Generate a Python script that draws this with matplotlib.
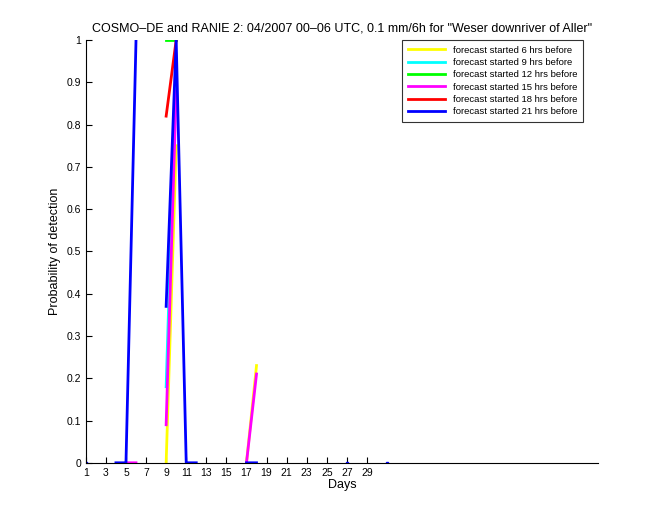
import numpy as np
import matplotlib.pyplot as plt

plt.rcParams['font.family'] = ['Liberation Sans', 'DejaVu Sans']

nan = np.nan
days = np.arange(1, 32)

# probability of detection per day, one list per forecast lead time
pod_6 = [nan]*8 + [0.0, 0.75] + [nan]*6 + [0.0, 0.23] + [nan]*13
pod_9 = [nan]*8 + [0.18, 0.95] + [nan]*21
pod_12 = [nan]*8 + [1.0, 1.0] + [nan]*21
pod_15 = [nan]*4 + [0.0, 0.0] + [nan]*2 + [0.09, 0.88] + [nan]*6 + [0.0, 0.21] + [nan]*13
pod_18 = [nan]*8 + [0.82, 1.0] + [nan]*21
pod_21 = ([0.0, nan, nan, 0.0, 0.0, 1.0, nan, nan, 0.37, 1.0, 0.0, 0.0]
          + [nan]*4 + [0.0, 0.0] + [nan]*8 + [0.0] + [nan]*3 + [0.0])

series = [
    (pod_6, 'yellow', 'forecast started 6 hrs before'),
    (pod_9, 'cyan', 'forecast started 9 hrs before'),
    (pod_12, 'lime', 'forecast started 12 hrs before'),
    (pod_15, 'magenta', 'forecast started 15 hrs before'),
    (pod_18, 'red', 'forecast started 18 hrs before'),
    (pod_21, 'blue', 'forecast started 21 hrs before'),
]

fig = plt.figure(figsize=(6.6, 5.2), dpi=100)
ax = fig.add_axes([0.130, 0.110, 0.776, 0.813])

for vals, col, lab in series:
    y = np.array(vals, dtype=float)
    ax.plot(days, y, color=col, lw=2, label=lab)
    # isolated points would not show as a line, draw them as dots
    ok = ~np.isnan(y)
    prev = np.r_[False, ok[:-1]]
    nxt = np.r_[ok[1:], False]
    iso = ok & ~prev & ~nxt
    ax.plot(days[iso], y[iso], ls='none', marker='s', ms=2, color=col)

ax.set_xlim(1, 52)
ax.set_ylim(0, 1)
ax.set_xticks(np.arange(1, 30, 2))
ax.set_yticks(np.arange(0, 1.01, 0.1))
ax.set_yticklabels(['0'] + ['%.1f' % v for v in np.arange(0.1, 0.95, 0.1)] + ['1'])
ax.tick_params(direction='in', labelsize=7.5, length=4)
ax.spines['top'].set_visible(False)
ax.spines['right'].set_visible(False)
ax.set_xlabel('Days', fontsize=9, labelpad=1)
ax.set_ylabel('Probability of detection', fontsize=9)
ax.set_title('COSMO\u2013DE and RANIE 2: 04/2007 00\u201306 UTC, 0.1 mm/6h for "Weser downriver of Aller"',
             fontsize=9, pad=6)

leg = ax.legend(loc='upper right', fontsize=6.8, frameon=True, fancybox=False,
                edgecolor='black', handlelength=4, borderpad=0.6, labelspacing=0.35,
                borderaxespad=0, bbox_to_anchor=(0.971, 1.0))
leg.get_frame().set_linewidth(0.8)

fig.savefig('out.png', dpi=100)
